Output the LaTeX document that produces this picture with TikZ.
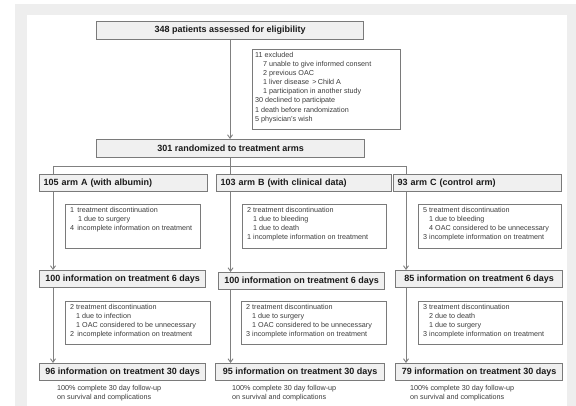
\documentclass[tikz,border=0pt]{standalone}
\usepackage{fontspec}
\setmainfont{Liberation Sans}
\usetikzlibrary{arrows.meta,backgrounds}
\definecolor{framegray}{HTML}{EEEEEE}
\definecolor{boxline}{HTML}{7A7A7A}
\definecolor{boxfill}{HTML}{F0F0F0}
\definecolor{ink}{HTML}{1A1A1A}
\definecolor{connline}{HTML}{808080}
\begin{document}
\begin{tikzpicture}[x=1pt,y=-1pt,
 tbox/.style={draw=boxline, fill=boxfill, line width=1.1pt, font=\bfseries\fontsize{9}{11}\selectfont, text=ink, inner sep=0pt, anchor=north west},
 lbox/.style={tbox, align=left, inner xsep=4pt},
 cbox/.style={draw=boxline, fill=white, line width=0.9pt, inner sep=0pt, anchor=north west},
 ctext/.style={font=\fontsize{7.2}{9.1}\selectfont, text=ink!85, align=left, inner sep=0pt, anchor=north west},
 conn/.style={draw=connline, line width=0.9pt},
 arr/.style={conn, -{Straight Barb[length=3.5pt,width=5pt]}}]
\useasboundingbox (0,0) rectangle (576,406);
\begin{scope}[on background layer]
\fill[white] (0,0) rectangle (576,406);
\fill[framegray] (15,4) rectangle (576,406);
\fill[white] (27,15) rectangle (567,406);
\end{scope}

\node[tbox, minimum width=267pt, minimum height=18pt] (top) at (96,21) {348 patients assessed for eligibility};
\node[cbox, minimum width=148pt, minimum height=80pt] (excl) at (252,49) {};
\node[ctext] (exclt) at ([shift={(3,3)}]excl.north west) {11 excluded\\
\hspace*{8pt}7 unable to give informed consent\\
\hspace*{8pt}2 previous OAC\\
\hspace*{8pt}1 liver disease \,>\,Child A\\
\hspace*{8pt}1 participation in another study\\
30 declined to participate\\
1 death before randomization\\
5 physician’s wish};
\node[tbox, minimum width=268pt, minimum height=18pt] (rand) at (96,139) {301 randomized to treatment arms};

\node[lbox, text width=160pt, minimum height=17pt] (armA) at (39,174) {105 arm A (with albumin)};
\node[lbox, text width=167pt, minimum height=17pt] (armB) at (216,174) {103 arm B (with clinical data)};
\node[lbox, text width=160pt, minimum height=17pt] (armC) at (393,174) {93 arm C (control arm)};

\node[cbox, minimum width=135pt, minimum height=44pt] (cA1) at (65,204) {};
\node[ctext] (cA1t) at ([shift={(5,3)}]cA1.north west) {1\, treatment discontinuation\\
\hspace*{8pt}1 due to surgery\\
4\, incomplete information on treatment};
\node[cbox, minimum width=144pt, minimum height=44pt] (cB1) at (242,204) {};
\node[ctext] (cB1t) at ([shift={(5,3)}]cB1.north west) {2 treatment discontinuation\\
\hspace*{6pt}1 due to bleeding\\
\hspace*{6pt}1 due to death\\
1 incomplete information on treatment};
\node[cbox, minimum width=143pt, minimum height=44pt] (cC1) at (418,204) {};
\node[ctext] (cC1t) at ([shift={(5,3)}]cC1.north west) {5 treatment discontinuation\\
\hspace*{6pt}1 due to bleeding\\
\hspace*{6pt}4 OAC considered to be unnecessary\\
3 incomplete information on treatment};

\node[tbox, minimum width=166pt, minimum height=17pt] (sixA) at (39,270) {100 information on treatment 6 days};
\node[tbox, minimum width=166pt, minimum height=17pt] (sixB) at (218,272) {100 information on treatment 6 days};
\node[tbox, minimum width=167pt, minimum height=17pt] (sixC) at (395,270) {85 information on treatment 6 days};

\node[cbox, minimum width=145pt, minimum height=43pt] (cA2) at (65,301) {};
\node[ctext] (cA2t) at ([shift={(5,3)}]cA2.north west) {2 treatment discontinuation\\
\hspace*{6pt}1 due to infection\\
\hspace*{6pt}1 OAC considered to be unnecessary\\
2\, incomplete information on treatment};
\node[cbox, minimum width=145pt, minimum height=43pt] (cB2) at (241,301) {};
\node[ctext] (cB2t) at ([shift={(5,3)}]cB2.north west) {2 treatment discontinuation\\
\hspace*{6pt}1 due to surgery\\
\hspace*{6pt}1 OAC considered to be unnecessary\\
3 incomplete information on treatment};
\node[cbox, minimum width=144pt, minimum height=43pt] (cC2) at (418,301) {};
\node[ctext] (cC2t) at ([shift={(5,3)}]cC2.north west) {3 treatment discontinuation\\
\hspace*{6pt}2 due to death\\
\hspace*{6pt}1 due to surgery\\
3 incomplete information on treatment};

\node[tbox, minimum width=166pt, minimum height=17pt] (thA) at (39,363) {96 information on treatment 30 days};
\node[tbox, minimum width=169pt, minimum height=17pt] (thB) at (215,363) {95 information on treatment 30 days};
\node[tbox, minimum width=167pt, minimum height=17pt] (thC) at (395,363) {79 information on treatment 30 days};

\node[ctext] (fA) at (57,385) {100\% complete 30 day follow-up\\on survival and complications};
\node[ctext] (fB) at (232,385) {100\% complete 30 day follow-up\\on survival and complications};
\node[ctext] (fC) at (410,385) {100\% complete 30 day follow-up\\on survival and complications};

\coordinate (hA) at (53,166);
\coordinate (hB) at (rand.south |- hA);
\coordinate (hC) at (406,166);

\begin{scope}[on background layer]
\draw[arr] (top.south) -- (top.south |- rand.north);
\draw[conn] (rand.south) -- (hB);
\draw[conn] (hA) -- (hC);
\draw[arr] (hA) -- (hA |- sixA.north);
\draw[arr] (hB) -- (hB |- sixB.north);
\draw[arr] (hC) -- (hC |- sixC.north);
\draw[arr] (hA |- sixA.south) -- (hA |- thA.north);
\draw[arr] (hB |- sixB.south) -- (hB |- thB.north);
\draw[arr] (hC |- sixC.south) -- (hC |- thC.north);
\end{scope}
\end{tikzpicture}
\end{document}
